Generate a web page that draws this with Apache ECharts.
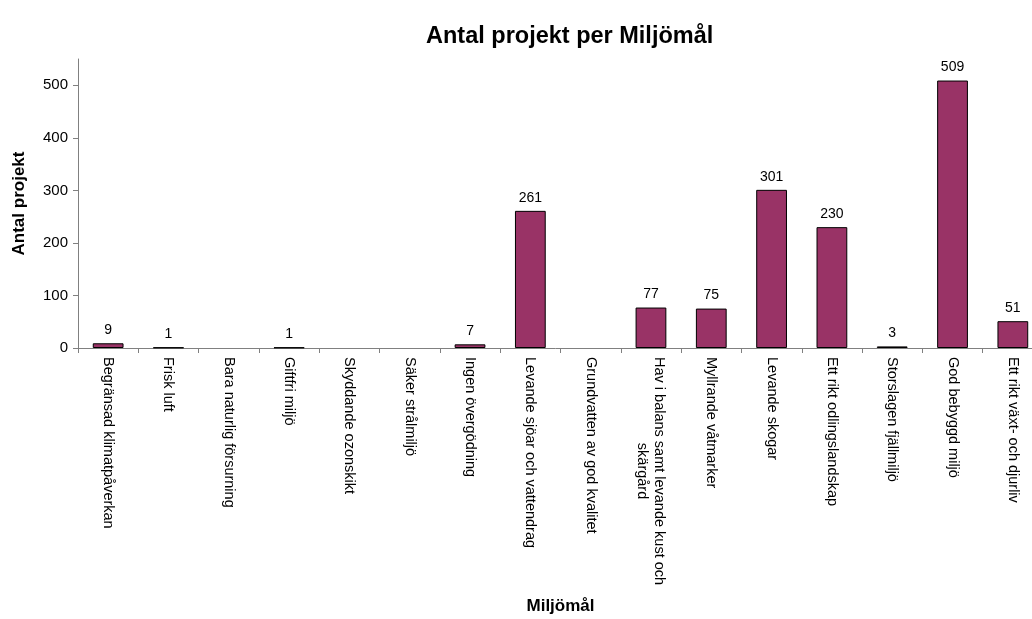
<!DOCTYPE html>
<html>
<head>
<meta charset="utf-8">
<script src="https://cdn.jsdelivr.net/npm/echarts@6/dist/echarts.min.js"></script>
<style>
  html, body { margin: 0; padding: 0; background: #fff; }
  #main { width: 1032px; height: 619px; }
</style>
</head>
<body>
<div id="main"></div>
<script>
var categories = [
    "Begränsad klimatpåverkan",
    "Frisk luft",
    "Bara naturlig försurning",
    "Giftfri miljö",
    "Skyddande ozonskikt",
    "Säker strålmiljö",
    "Ingen övergödning",
    "Levande sjöar och vattendrag",
    "Grundvatten av god kvalitet",
    "Hav i balans samt levande kust och\nskärgård",
    "Myllrande våtmarker",
    "Levande skogar",
    "Ett rikt odlingslandskap",
    "Storslagen fjällmiljö",
    "God bebyggd miljö",
    "Ett rikt växt- och djurliv"
];
var projectCounts = [9, 1, 0, 1, 0, 0, 7, 261, 0, 77, 75, 301, 230, 3, 509, 51];
var yTicks = [0, 100, 200, 300, 400, 500];

var font = "Liberation Sans, Arial, sans-serif";

// nollvärden ritas utan kantlinje
var barData = [];
for (var i = 0; i < projectCounts.length; i++) {
    if (projectCounts[i] === 0) {
        barData.push({ value: 0, itemStyle: { borderWidth: 0 } });
    } else {
        barData.push(projectCounts[i]);
    }
}

var myChart = echarts.init(document.getElementById('main'));

var option = {
    animation: false,
    title: {
        text: 'Antal projekt per Miljömål',
        left: 421,
        top: 20,
        textStyle: {
            fontFamily: font,
            fontSize: 23.5,
            fontWeight: 'bold',
            color: '#000'
        }
    },
    grid: {
        left: 78,
        top: 59,
        right: -11,
        bottom: 271,
        containLabel: false,
        outerBoundsMode: 'none'
    },
    xAxis: {
        type: 'category',
        data: categories,
        name: 'Miljömål',
        nameLocation: 'middle',
        nameGap: 250,
        nameTextStyle: {
            fontFamily: font,
            fontSize: 17,
            fontWeight: 'bold',
            color: '#000'
        },
        axisLine: { lineStyle: { color: '#808080', width: 1 } },
        axisTick: { show: true, length: 5, lineStyle: { color: '#808080' } },
        axisLabel: {
            interval: 0,
            rotate: -90,
            margin: 9,
            fontFamily: font,
            fontSize: 14.5,
            color: '#000',
            lineHeight: 17,
            formatter: function(value) {
                var parts = value.split('\n');
                if (parts.length > 1) {
                    return '{a|' + parts[0] + '}\n{c|' + parts[1] + '}';
                }
                return value;
            },
            rich: {
                a: { fontFamily: font, fontSize: 14.5, color: '#000', lineHeight: 17 },
                c: { fontFamily: font, fontSize: 14.5, color: '#000', lineHeight: 17, align: 'center' }
            }
        },
        splitLine: { show: false }
    },
    yAxis: {
        type: 'value',
        min: 0,
        max: 550,
        interval: 100,
        name: 'Antal projekt',
        nameLocation: 'middle',
        nameGap: 50,
        nameTextStyle: {
            fontFamily: font,
            fontSize: 17,
            fontWeight: 'bold',
            color: '#000'
        },
        axisLine: { show: true, lineStyle: { color: '#808080', width: 1 } },
        axisTick: { show: true, length: 5, customValues: yTicks, lineStyle: { color: '#808080' } },
        axisLabel: {
            customValues: yTicks,
            margin: 10,
            fontFamily: font,
            fontSize: 15,
            color: '#000'
        },
        splitLine: { show: false }
    },
    series: [{
        name: 'Antal projekt',
        type: 'bar',
        data: barData,
        barWidth: '51%',
        itemStyle: {
            color: '#993366',
            borderColor: '#000',
            borderWidth: 1
        },
        label: {
            show: true,
            position: 'top',
            distance: 6,
            fontFamily: font,
            fontSize: 14,
            color: '#000',
            formatter: function(params) {
                return params.value === 0 ? '' : params.value;
            }
        }
    }]
};

myChart.setOption(option);
</script>
</body>
</html>
